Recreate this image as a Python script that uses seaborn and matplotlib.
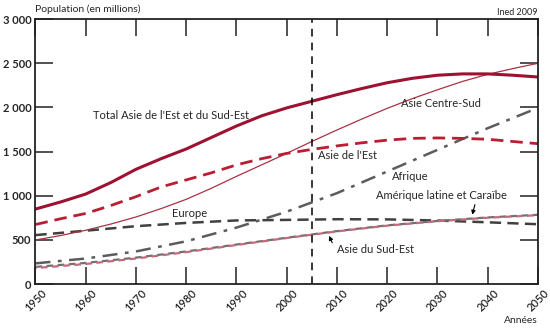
import numpy as np
import pandas as pd
import matplotlib
matplotlib.use("Agg")
import matplotlib.pyplot as plt
import seaborn as sns
from matplotlib.ticker import FuncFormatter, MultipleLocator

sns.set_theme(style="white")
plt.rcParams['font.family'] = ['Lato', 'DejaVu Sans']

years5 = [1950, 1955, 1960, 1965, 1970, 1975, 1980, 1985, 1990, 1995, 2000,
          2005, 2010, 2015, 2020, 2025, 2030, 2035, 2040, 2045, 2050]
years10 = [1950, 1960, 1970, 1980, 1990, 2000, 2010, 2020, 2030, 2040, 2050]

total_est_sud_est = [850, 930, 1020, 1150, 1300, 1420, 1530, 1660, 1790, 1905, 1995,
                     2070, 2145, 2215, 2280, 2330, 2365, 2380, 2380, 2365, 2345]
asie_centre_sud = [500, 550, 610, 680, 760, 855, 960, 1085, 1220, 1350, 1480,
                   1615, 1745, 1870, 1990, 2100, 2200, 2295, 2375, 2440, 2500]
asie_est = [675, 740, 800, 890, 990, 1100, 1180, 1260, 1350, 1420, 1480,
            1525, 1565, 1600, 1630, 1650, 1655, 1650, 1640, 1615, 1590]
europe = [555, 605, 656, 693, 721, 727, 735, 733, 720, 700, 678]
afrique = [235, 290, 370, 485, 640, 820, 1030, 1275, 1520, 1765, 1995]
amerique_latine = [195, 240, 300, 370, 448, 525, 600, 665, 715, 755, 785]
asie_sud_est = [182, 228, 290, 362, 443, 522, 597, 662, 712, 752, 780]

xticks = [1950, 1960, 1970, 1980, 1990, 2000, 2010, 2020, 2030, 2040, 2050]
yticks = [0, 500, 1000, 1500, 2000, 2500, 3000]

fig = plt.figure(figsize=(5.5, 3.3), dpi=100)
ax = fig.add_axes([0.0645, 0.139, 0.9135, 0.803])

red_dark = "#9c1230"
red = "#b91e33"
red_thin = "#a83246"
grey = "#404040"
grey2 = "#5c5c5c"
pink = "#c46a7c"

series = [
    (years10, afrique, grey2, (0, (6, 3, 1.5, 3)), 1.8),
    (years10, europe, grey, (0, (4.5, 2.5)), 1.8),
    (years10, amerique_latine, "#707070", (0, (3, 2)), 1.6),
    (years10, asie_sud_est, pink, (2.5, (3, 2)), 1.6),
    (years5, asie_centre_sud, red_thin, "-", 0.9),
    (years5, asie_est, red, (0, (4.5, 2.5)), 2.0),
    (years5, total_est_sud_est, red_dark, "-", 2.2),
]
for xs, ys, c, ls, lw in series:
    sns.lineplot(x=xs, y=ys, ax=ax, color=c, linestyle=ls, linewidth=lw)

ax.axvline(2005, color="black", linestyle=(0, (5, 4)), linewidth=1.1)

ax.set_xlim(1950, 2050)
ax.set_ylim(0, 3000)
ax.set_xticks(xticks)
ax.set_yticks(yticks)
ax.yaxis.set_major_formatter(FuncFormatter(lambda v, p: f"{int(v):,}".replace(",", " ")))
ax.tick_params(axis="x", direction="in", length=12, width=1.1, top=True, bottom=True,
               labelsize=8, color="#222222", pad=12)
ax.tick_params(axis="y", direction="in", length=13, width=1.1, left=True, right=True,
               labelsize=8, color="#222222", pad=3)
for lab in ax.get_xticklabels():
    lab.set_rotation(45)
    lab.set_ha("center")
    lab.set_va("center")
    lab.set_rotation_mode("anchor")
    lab.set_fontweight("semibold")
for lab in ax.get_yticklabels():
    lab.set_fontweight("bold")
for s in ax.spines.values():
    s.set_color("#222222")
    s.set_linewidth(1.3)
ax.set_xlabel("")
ax.set_ylabel("")

fs = 8
ax.text(1961.5, 1905, "Total Asie de l'Est et du Sud-Est", fontsize=fs, va="center", ha="left")
ax.text(2022.8, 2040, "Asie Centre-Sud", fontsize=fs, va="center", ha="left")
ax.text(2006.3, 1455, "Asie de l'Est", fontsize=fs, va="center", ha="left")
ax.text(2021, 1218, "Afrique", fontsize=fs, va="center", ha="left")
ax.text(2017.7, 1003, "Amérique latine et Caraïbe", fontsize=fs, va="center", ha="left")
ax.text(1977.2, 800, "Europe", fontsize=fs, va="center", ha="left")
ax.text(2010, 395, "Asie du Sud-Est", fontsize=fs, va="center", ha="left")
ax.annotate("", xy=(2036.8, 755), xytext=(2037.6, 930),
            arrowprops=dict(arrowstyle="-|>", color="black", lw=0.8, mutation_scale=6))
ax.annotate("", xy=(2008.2, 575), xytext=(2009.3, 440),
            arrowprops=dict(arrowstyle="-|>", color="black", lw=0.8, mutation_scale=6))

fig.text(0.0645, 0.972, "Population (en millions)", fontsize=7.5, ha="left", va="center")
fig.text(0.978, 0.962, "Ined 2009", fontsize=6.5, ha="right", va="center")
fig.text(0.978, 0.03, "Années", fontsize=7.5, ha="right", va="center")

fig.savefig("out.png", dpi=100)
